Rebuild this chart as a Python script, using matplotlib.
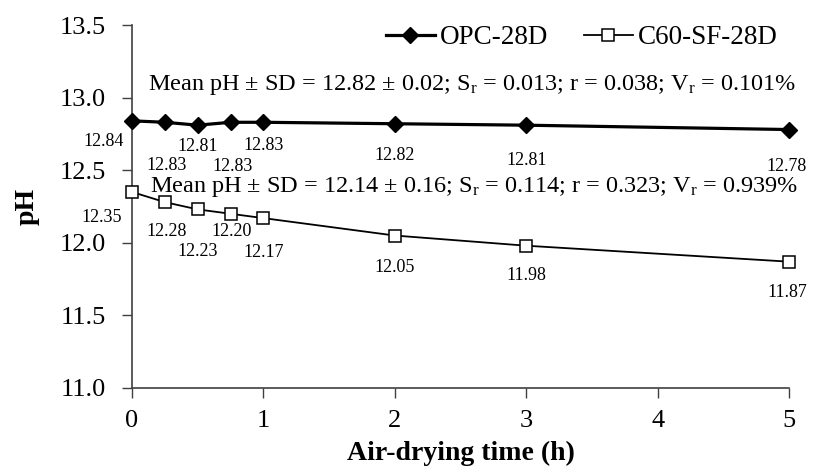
import matplotlib
matplotlib.use('Agg')
import matplotlib.pyplot as plt

plt.rcParams['font.family'] = ['Liberation Serif', 'DejaVu Serif']
plt.rcParams['mathtext.fontset'] = 'custom'
plt.rcParams['mathtext.rm'] = 'Liberation Serif'
plt.rcParams['mathtext.it'] = 'Liberation Serif:italic'

# data
tiempo = [0, 0.25, 0.5, 0.75, 1, 2, 3, 5]
opc = [12.84, 12.83, 12.81, 12.83, 12.83, 12.82, 12.81, 12.78]
c60 = [12.35, 12.28, 12.23, 12.20, 12.17, 12.05, 11.98, 11.87]
yticks = [11.0, 11.5, 12.0, 12.5, 13.0, 13.5]
xticks = [0, 1, 2, 3, 4, 5]
txt_opc = r'Mean pH ± SD = 12.82 ± 0.02; S$_\mathrm{r}$ = 0.013; r = 0.038; V$_\mathrm{r}$ = 0.101%'
txt_c60 = r'Mean pH ± SD = 12.14 ± 0.16; S$_\mathrm{r}$ = 0.114; r = 0.323; V$_\mathrm{r}$ = 0.939%'

# label offsets (pixels) relative to each point
off_opc = [(-28, -21), (2, -43), (0, -21), (2, -44), (0, -23), (0, -32), (0, -35), (-2, -37)]
off_c60 = [(-30, -26), (2, -29), (0, -42), (1, -18), (0, -34), (0, -32), (0, -30), (-2, -31)]

fig = plt.figure(figsize=(8.14, 4.72), dpi=100)
ax = fig.add_axes([132/814, 1-388/472, (789-132)/814, (388-25)/472])

ax.plot(tiempo, opc, color='black', lw=2.3, marker='D', ms=8.5,
        mfc='black', mec='black', label='OPC-28D', clip_on=False, zorder=3)
ax.plot(tiempo, c60, color='black', lw=1.3, marker='s', ms=8,
        mfc='white', mec='black', mew=1.1, label='C60-SF-28D', clip_on=False, zorder=3)

for x, y, (dx, dy) in zip(tiempo, opc, off_opc):
    ax.annotate('%.2f' % y, (x, y), xytext=(dx*0.72, dy*0.72), textcoords='offset points',
                ha='center', va='center', fontsize=13)
for x, y, (dx, dy) in zip(tiempo, c60, off_c60):
    ax.annotate('%.2f' % y, (x, y), xytext=(dx*0.72, dy*0.72), textcoords='offset points',
                ha='center', va='center', fontsize=13)

fig.text(148/814, 1-85/472, txt_opc, fontsize=17.5, va='center', ha='left')
fig.text(150/814, 1-187/472, txt_c60, fontsize=17.5, va='center', ha='left')

ax.set_xlim(0, 5)
ax.set_ylim(11, 13.5)
ax.set_xticks(xticks)
ax.set_yticks(yticks)
ax.set_yticklabels(['%.1f' % v for v in yticks])
ax.tick_params(axis='both', labelsize=19, direction='out', length=7, width=1, color='#404040')
ax.tick_params(axis='x', pad=9)
ax.tick_params(axis='y', pad=12)
for s in ['top', 'right']:
    ax.spines[s].set_visible(False)
for s in ['left', 'bottom']:
    ax.spines[s].set_color('#404040')
    ax.spines[s].set_linewidth(1.2)

ax.set_xlabel('Air-drying time (h)', fontsize=20, fontweight='bold', labelpad=6)
ax.set_ylabel('pH', fontsize=20, fontweight='bold', labelpad=14)

ax.legend(loc='center', bbox_to_anchor=(582/814, 1-38/472), bbox_transform=fig.transFigure,
          ncol=2, frameon=False, fontsize=19.5, handlelength=1.8, handletextpad=0.2,
          columnspacing=1.3, borderpad=0)

fig.savefig('out.png', dpi=100)
